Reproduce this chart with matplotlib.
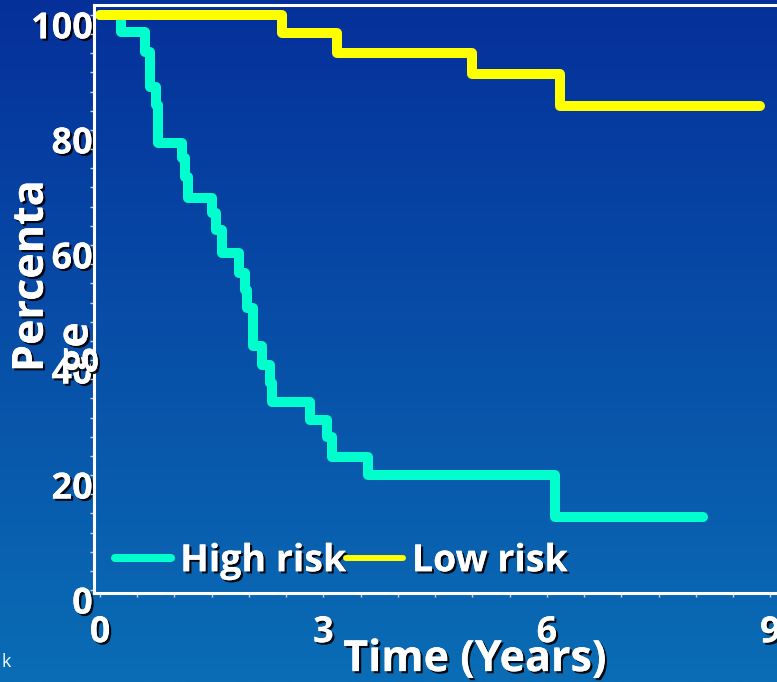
import numpy as np
import matplotlib
matplotlib.use('Agg')
import matplotlib.pyplot as plt
import matplotlib.patheffects as pe
from matplotlib.transforms import ScaledTranslation
from matplotlib.colors import LinearSegmentedColormap

# survival curves (years, percent)
high_t = [0, 0.28, 0.60, 0.67, 0.75, 0.78, 1.10, 1.14, 1.18, 1.51, 1.56, 1.64,
          1.87, 1.95, 1.98, 2.05, 2.18, 2.28, 2.31, 2.82, 3.05, 3.11, 3.60, 6.11, 8.09]
high_s = [100, 97.0, 93.6, 87.5, 84.3, 77.7, 75.1, 71.8, 68.2, 65.6, 62.6, 58.6,
          55.1, 52.2, 49.0, 42.4, 39.1, 36.0, 32.7, 29.6, 26.6, 23.1, 20.0, 12.7, 12.7]
low_t = [0, 2.44, 3.18, 4.99, 6.17, 8.86]
low_s = [100, 96.9, 93.4, 89.7, 84.2, 84.2]

x_ticks = [0, 3, 6, 9]
y_ticks = [0, 20, 40, 60, 80, 100]

plt.rcParams['font.family'] = ['Open Sans', 'DejaVu Sans']
plt.rcParams['font.weight'] = 'bold'

shadow = [pe.withSimplePatchShadow(offset=(1.6, -1.6), shadow_rgbFace='black', alpha=0.9),
          pe.Normal()]

fig = plt.figure(figsize=(7.77, 6.82), dpi=100)

# blue gradient backdrop
bg = fig.add_axes([0, 0, 1, 1], zorder=0)
grad = np.linspace(0, 1, 256).reshape(-1, 1)
cmap = LinearSegmentedColormap.from_list('slide', ['#05309a', '#0a6db5'])
bg.imshow(grad, aspect='auto', cmap=cmap, extent=[0, 1, 0, 1], origin='upper')
bg.axis('off')

ax = fig.add_axes([0.121, 0.1305, 0.879, 0.862], zorder=1)
ax.patch.set_alpha(0)

ax.step(high_t, high_s, where='post', color='#00ffcc', lw=7.2,
        solid_capstyle='round', solid_joinstyle='round', label='High risk')
ax.step(low_t, low_s, where='post', color='#ffff00', lw=7.2,
        solid_capstyle='round', solid_joinstyle='round', label='Low risk')

ax.set_xlim(-0.08, 9.09)
ax.set_ylim(-0.5, 101.7)

for side in ['left', 'top', 'bottom']:
    ax.spines[side].set_color('white')
    ax.spines[side].set_linewidth(2.2)
ax.spines['right'].set_visible(False)

ax.set_xticks(x_ticks)
ax.set_xticks(np.arange(0, 9.01, 0.5), minor=True)
ax.set_yticks(y_ticks)
ax.set_yticks(np.arange(0, 100.1, 20 / 6), minor=True)
ax.tick_params(which='both', direction='out', length=3, width=1, color='#c8d2e6')
ax.tick_params(axis='x', which='major', labelsize=26, labelcolor='white', pad=13)
ax.tick_params(axis='y', which='major', labelsize=26, labelcolor='white', pad=-2)

shift = ScaledTranslation(0, -0.10, fig.dpi_scale_trans)
for lbl in ax.get_yticklabels():
    lbl.set_transform(lbl.get_transform() + shift)
    lbl.set_path_effects(shadow)
for lbl in ax.get_xticklabels():
    lbl.set_path_effects(shadow)

leg = ax.legend(loc='center left', bbox_to_anchor=(0.030, 0.054), ncol=2, frameon=False,
                fontsize=27, handlelength=1.5, handletextpad=0.25, columnspacing=0,
                borderpad=0, borderaxespad=0)
for t in leg.get_texts():
    t.set_color('white')
    t.set_path_effects(shadow)
leg.get_lines()[0].set_linewidth(5.8)
leg.get_lines()[1].set_linewidth(4.3)

fig.text(0.611, 0.016, 'Time (Years)', ha='center', va='baseline', fontsize=31,
         color='white', path_effects=shadow)
fig.text(0.069, 0.4545, 'Percenta\nge', rotation=90, ha='center', va='bottom',
         multialignment='left', fontsize=31, color='white', linespacing=1.05,
         path_effects=shadow)
fig.text(0.002, 0.022, 'k', fontsize=13, color='white', fontweight='normal')

fig.savefig('out.png', dpi=100)
